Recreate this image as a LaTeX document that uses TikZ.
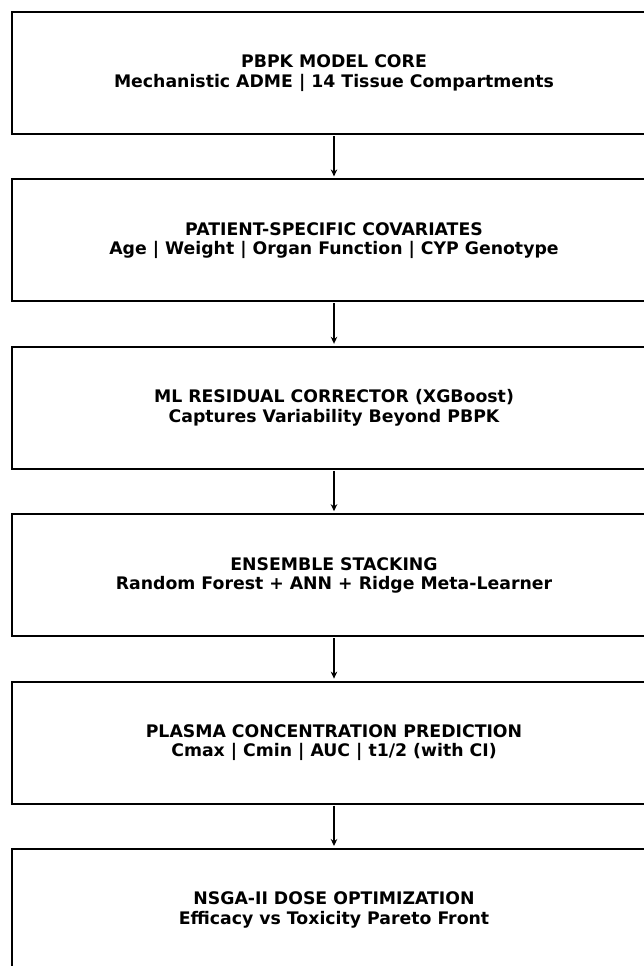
\documentclass[tikz,border=0pt]{standalone}
\usepackage{fontspec}
\setmainfont{DejaVu Sans}
\usetikzlibrary{positioning,arrows.meta}

\tikzset{
  stagebox/.style={draw, line width=2pt, minimum width=644pt, minimum height=122pt, outer sep=0pt,
    align=center, font=\bfseries\fontsize{17.3}{19.5}\selectfont, inner sep=0pt,
    execute at begin node={\rule{0pt}{16.6pt}}},
  flow/.style={-{Stealth[length=7pt,width=6.5pt]}, line width=1.8pt, shorten >=3pt, shorten <=2pt}
}

\begin{document}
\begin{tikzpicture}[x=1pt,y=-1pt, node distance=45.4pt]
  \useasboundingbox (0,0) rectangle (644,966);
  \clip (0,0) rectangle (644,966);
  \node[stagebox] (core) at (334,73) {PBPK MODEL CORE\\Mechanistic ADME | 14 Tissue Compartments};
  \node[stagebox, below=of core] (cov) {PATIENT-SPECIFIC COVARIATES\\Age | Weight | Organ Function | CYP Genotype};
  \node[stagebox, below=of cov] (ml) {ML RESIDUAL CORRECTOR (XGBoost)\\Captures Variability Beyond PBPK};
  \node[stagebox, below=of ml] (ens) {ENSEMBLE STACKING\\Random Forest + ANN + Ridge Meta-Learner};
  \node[stagebox, below=of ens] (pred) {PLASMA CONCENTRATION PREDICTION\\Cmax | Cmin | AUC | t1/2 (with CI)};
  \node[stagebox, below=of pred] (opt) {NSGA-II DOSE OPTIMIZATION\\Efficacy vs Toxicity Pareto Front};
  % arrows between stages
  \foreach \a/\b in {core/cov, cov/ml, ml/ens, ens/pred, pred/opt}{
    \draw[flow] (\a.south) -- (\b.north);
  }
\end{tikzpicture}
\end{document}
